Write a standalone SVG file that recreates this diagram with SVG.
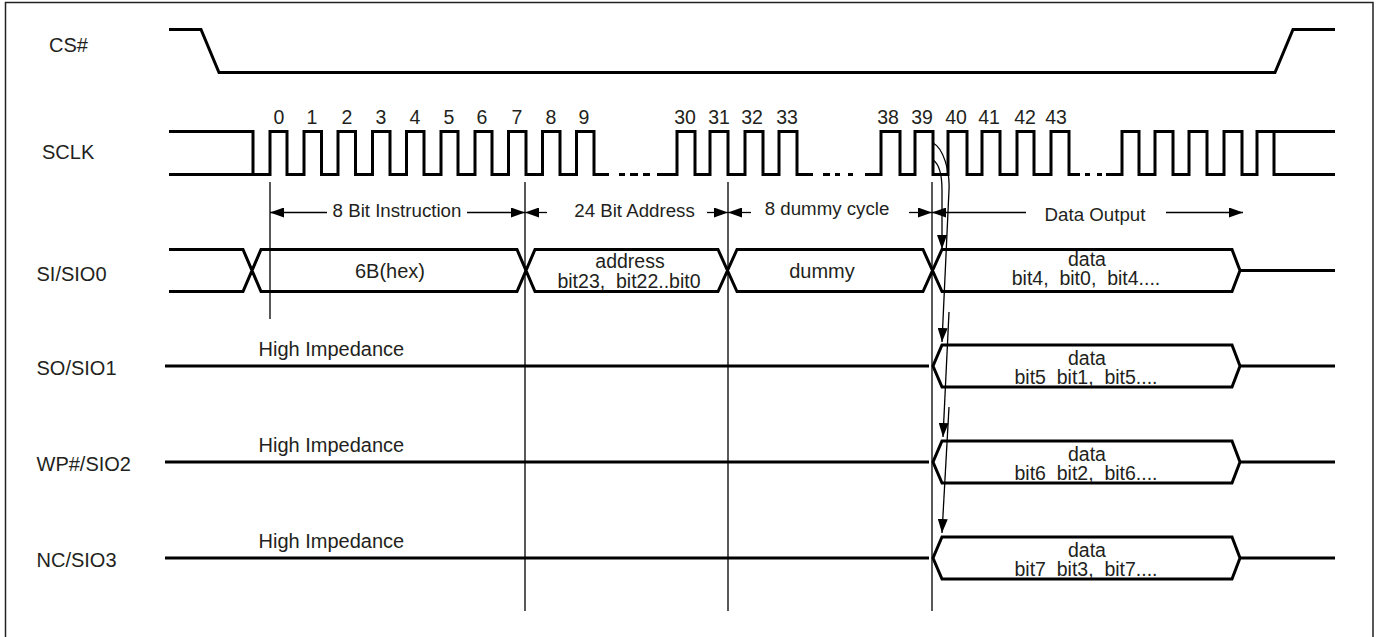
<svg xmlns="http://www.w3.org/2000/svg" width="1380" height="637" viewBox="0 0 1380 637">
<style>
text{font-family:"Liberation Sans",Arial,sans-serif;font-size:19.5px;fill:#231f20;white-space:pre}
.d{font-size:18.7px}
.l{font-size:20px}
.m{text-anchor:middle}
.w{fill:none;stroke:#000;stroke-width:3;stroke-linejoin:miter}
.t{fill:none;stroke:#000;stroke-width:1.3}
.h{fill:#000;stroke:none}
</style>
<defs>
<marker id="a" viewBox="0 0 14 10" refX="14" refY="5" markerWidth="14" markerHeight="10" markerUnits="userSpaceOnUse" orient="auto-start-reverse"><path class="h" d="M0 0L14 5L0 10Z"/></marker>
</defs>
<path d="M5.500 640V2.500H1373V640" fill="none" stroke="#222" stroke-width="1.500"/>
<g id="CS">
<path class="w" d="M169 29.500H201L219 72.500H1275L1293 29.500H1335"/>
<text class="l" x="49" y="52">CS#</text>
</g>
<g id="SCLK">
<path class="w" d="M169 131.500H253V174.500H270V131.500H287V174.500H304V131.500H321.500V174.500H338V131.500H355.500V174.500H372.500V131.500H390V174.500H406.500V131.500H424V174.500H441V131.500H458V174.500H475V131.500H492V174.500H508.500V131.500H526V174.500H542.500V131.500H560V174.500H576.500V131.500H594V174.500H609M619 174.500H625M630 174.500H638M643 174.500H650M657 174.500H677V131.500H695V174.500H710V131.500H728V174.500H745V131.500H763V174.500H779V131.500H797V174.500H813M823 174.500H830M835 174.500H840M848 174.500H853M865 174.500H881V131.500H900V174.500H915V131.500H933V174.500H948V131.500H967V174.500H982V131.500H1000V174.500H1017V131.500H1034V174.500H1051V131.500H1069V174.500H1072M1072 174.500H1080M1085 174.500H1090M1097 174.500H1102M1106 174.500H1122V131.500H1139V174.500H1155V131.500H1173V174.500H1189V131.500H1207V174.500H1224V131.500H1242V174.500H1257V131.500H1335M1274 131.500V174.500H1335M169 174.500H253"/>
<text class="l" x="42" y="159">SCLK</text>
<text class="m" x="279" y="124">0</text><text class="m" x="312" y="124">1</text><text class="m" x="347" y="124">2</text><text class="m" x="381" y="124">3</text><text class="m" x="415" y="124">4</text><text class="m" x="449" y="124">5</text><text class="m" x="482" y="124">6</text><text class="m" x="517" y="124">7</text><text class="m" x="551" y="124">8</text><text class="m" x="584" y="124">9</text>
<text class="m" x="685" y="124">30</text><text class="m" x="719" y="124">31</text><text class="m" x="752" y="124">32</text><text class="m" x="787" y="124">33</text><text class="m" x="888" y="124">38</text><text class="m" x="922" y="124">39</text><text class="m" x="956" y="124">40</text><text class="m" x="989" y="124">41</text><text class="m" x="1025" y="124">42</text><text class="m" x="1056" y="124">43</text>
</g>
<g id="SI">
<path class="w" d="M169 249.500H243L261 291.500H517L535 249.500H718L737 291.500H923L942 249.500H1232L1240 270.500L1232 291.500H942L923 249.500H737L718 291.500H535L517 249.500H261L243 291.500H169M1240 270.500H1335"/>
<text class="l" x="36.500" y="281">SI/SIO0</text>
<text class="m l" x="390" y="278">6B(hex)</text>
<text class="m" x="630" y="268">address</text>
<text class="m" x="629" y="288" xml:space="preserve">bit23,  bit22..bit0</text>
<text class="m l" x="822" y="278">dummy</text>
<text class="m" x="1087" y="266">data</text>
<text class="m" x="1086" y="285" xml:space="preserve">bit4,  bit0,  bit4....</text>
</g>
<g id="SO">
<path class="w" d="M165 366H929M942 345H1232L1240 366L1232 387H942L933 366ZM1240 366H1335"/>
<text class="l" x="36.500" y="375">SO/SIO1</text>
<text class="l" x="258.500" y="356">High Impedance</text>
<text class="m" x="1087" y="365">data</text>
<text class="m" x="1086" y="384" xml:space="preserve">bit5  bit1,  bit5....</text>
</g>
<g id="WP">
<path class="w" d="M165 462H929M942 441H1232L1240 462L1232 483H942L933 462ZM1240 462H1335"/>
<text class="l" x="36.500" y="471">WP#/SIO2</text>
<text class="l" x="258.500" y="452">High Impedance</text>
<text class="m" x="1087" y="461">data</text>
<text class="m" x="1086" y="480" xml:space="preserve">bit6  bit2,  bit6....</text>
</g>
<g id="NC">
<path class="w" d="M165 558H929M942 537H1232L1240 558L1232 579H942L933 558ZM1240 558H1335"/>
<text class="l" x="36.500" y="567">NC/SIO3</text>
<text class="l" x="258.500" y="548">High Impedance</text>
<text class="m" x="1087" y="557">data</text>
<text class="m" x="1086" y="576" xml:space="preserve">bit7  bit3,  bit7....</text>
</g>
<g id="connectors">
<path class="t" d="M270 182V319M525 182V611M728 182V611M932 182V611"/>
<path class="t" marker-start="url(#a)" d="M270 212.500H327"/>
<path class="t" marker-end="url(#a)" d="M467 212.500H525"/>
<path class="t" marker-start="url(#a)" d="M525 212.500H547"/>
<path class="t" marker-end="url(#a)" d="M707 212.500H728"/>
<path class="t" marker-start="url(#a)" d="M728 212.500H751"/>
<path class="t" marker-end="url(#a)" d="M909 212.500H932"/>
<path class="t" marker-start="url(#a)" d="M932 212.500H1026"/>
<path class="t" marker-end="url(#a)" d="M1166 212.500H1243"/>
<path class="t" marker-end="url(#a)" d="M933 143C943 148 950 170 949 190L942 342"/>
<path class="t" marker-end="url(#a)" d="M933 160C939 164 942 172 942 190V249"/>
<path class="t" marker-end="url(#a)" d="M949 312L943 437"/>
<path class="t" marker-end="url(#a)" d="M949 407L942 533"/>
</g>
<text class="m d" x="397" y="217">8 Bit Instruction</text>
<text class="m d" x="634.500" y="217">24 Bit Address</text>
<text class="m d" x="827" y="215">8 dummy cycle</text>
<text class="m d" x="1095" y="221">Data Output</text>
</svg>
